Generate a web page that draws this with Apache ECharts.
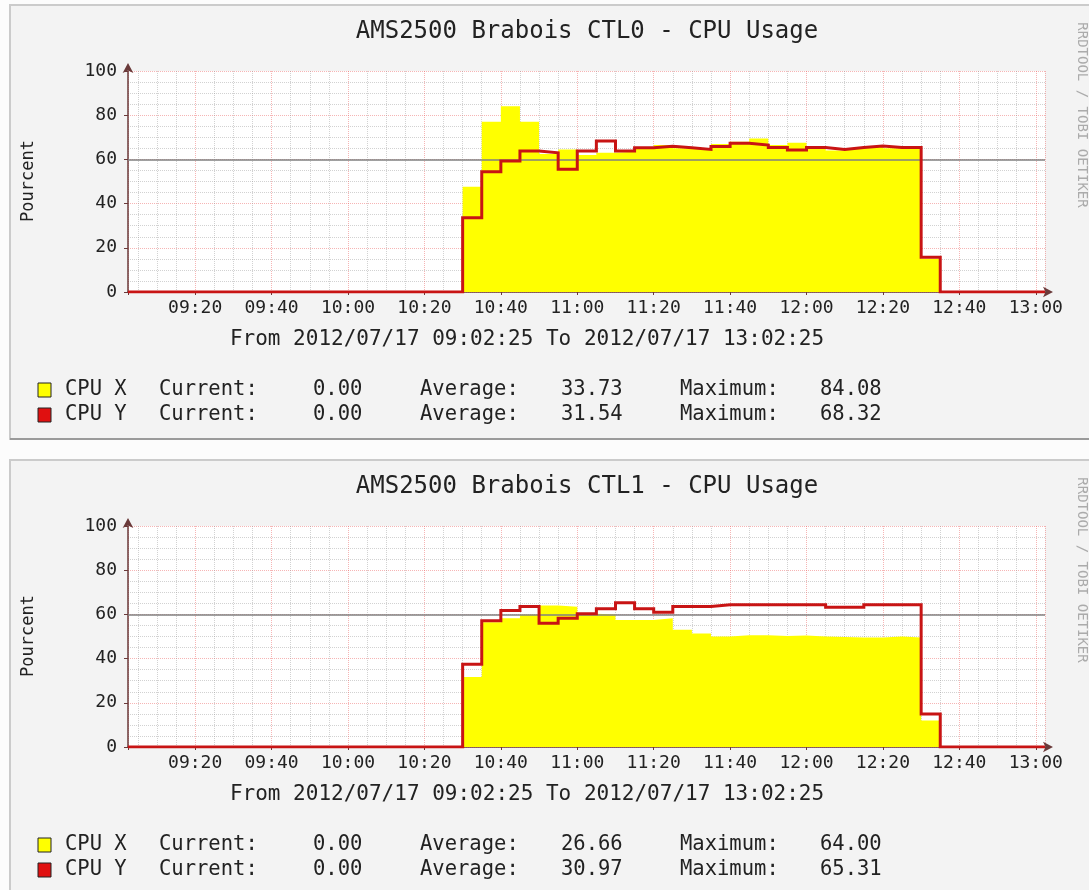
<!DOCTYPE html>
<html>
<head>
<meta charset="utf-8">
<script src="https://cdn.jsdelivr.net/npm/echarts@6/dist/echarts.min.js"></script>
<style>
  html, body { margin: 0; padding: 0; background: #fcfcfc; }
  #chart { width: 1089px; height: 890px; }
</style>
</head>
<body>
<div id="chart"></div>
<script>
// time window of both graphs, minutes since midnight (09:02:25 -> 13:02:25)
const startMin = 9 * 60 + 2 + 25 / 60
const endMin = startMin + 240

// 5 minute rrd steps where something happens (value holds until next step)
const slots = ['10:30', '10:35', '10:40', '10:45', '10:50', '10:55', '11:00', '11:05', '11:10',
    '11:15', '11:20', '11:25', '11:30', '11:35', '11:40', '11:45', '11:50', '11:55', '12:00',
    '12:05', '12:10', '12:15', '12:20', '12:25', '12:30', '12:35']

const ctl0CpuX = [47.6, 77, 84.1, 77, 62.5, 64.5, 62, 63, 63.5, 65, 66.5, 65, 65, 67, 68, 69.5,
    66.5, 67.5, 66, 64, 65, 66, 65, 65, 15, 0]
const ctl0CpuY = [33.6, 54.4, 59.3, 63.8, 63, 55.5, 63.8, 68.3, 63.8, 65.3, 66, 65.3, 64.5, 65.8,
    67.3, 66.5, 65.4, 64.2, 65.4, 64.5, 65.4, 66.1, 65.4, 65.4, 15.7, 0]
const ctl1CpuX = [31.7, 56.5, 58.3, 59.8, 64, 63.5, 60.3, 60, 57.5, 57.5, 58.3, 53, 51.4, 50, 50.6,
    50.6, 50.2, 50.5, 50, 49.8, 49.5, 49.6, 50, 49.5, 12, 0]
const ctl1CpuY = [37.4, 57.1, 61.8, 63.6, 56, 58.3, 60.3, 62.6, 65.3, 62.6, 61, 63.6, 63.6, 64.4,
    64.4, 64.4, 64.4, 64.4, 64.4, 63.2, 63.2, 64.4, 64.4, 64.4, 14.9, 0]

const hrule = 60

const titles = ['AMS2500 Brabois CTL0 - CPU Usage', 'AMS2500 Brabois CTL1 - CPU Usage']
const periodText = 'From 2012/07/17 09:02:25 To 2012/07/17 13:02:25'
const legendNames = ['CPU X', 'CPU Y']
const ctl0Current = ['0.00', '0.00']
const ctl0Average = ['33.73', '31.54']
const ctl0Maximum = ['84.08', '68.32']
const ctl1Current = ['0.00', '0.00']
const ctl1Average = ['26.66', '30.97']
const ctl1Maximum = ['64.00', '65.31']

const mono = "'DejaVu Sans Mono', monospace"
const textColor = '#222222'
const axisColor = '#6a3a3a'
const majorGrid = 'rgba(235, 90, 90, 0.45)'
const minorGrid = 'rgba(143, 143, 143, 0.40)'
const colorX = '#ffff00'
const colorY = '#c81414'

function toMin(hhmm) {
    let parts = hhmm.split(':')
    return +parts[0] * 60 + +parts[1]
}

function stepData(values) {
    let pts = [[startMin, 0]]
    for (let i = 0; i < slots.length; i++) {
        pts.push([toMin(slots[i]), values[i]])
    }
    pts.push([endMin, 0])
    return pts
}

function pad(n) {
    return (n < 10 ? '0' : '') + n
}

function timeLabel(v) {
    let m = Math.round(v)
    if (Math.abs(v - m) > 0.01 || m % 20 !== 0) return ''
    return pad(Math.floor(m / 60)) + ':' + pad(m % 60)
}

const panelOffset = 455
const grids = [0, 1].map(i => ({
    left: 128, top: 71 + i * panelOffset, width: 917, height: 221,
    show: true, backgroundColor: '#ffffff', borderWidth: 0
}))

const xAxes = [0, 1].map(i => ({
    type: 'value', gridIndex: i, min: startMin, max: endMin,
    splitNumber: 12, minInterval: 20, maxInterval: 20,
    axisLine: {
        show: true, onZero: false, symbol: ['none', 'arrow'], symbolSize: [8, 10], symbolOffset: [0, 8],
        lineStyle: { color: axisColor, width: 1.5 }
    },
    axisTick: { show: true, length: 3, lineStyle: { color: axisColor } },
    axisLabel: { formatter: timeLabel, fontFamily: mono, fontSize: 18, color: textColor, margin: 7 },
    splitLine: { show: true, lineStyle: { color: majorGrid, type: 'dotted' } },
    minorTick: { show: false, splitNumber: 4 },
    minorSplitLine: { show: true, lineStyle: { color: minorGrid, type: 'dotted' } }
}))

const yAxes = [0, 1].map(i => ({
    type: 'value', gridIndex: i, min: 0, max: 100, interval: 20,
    axisLine: {
        show: true, symbol: ['none', 'arrow'], symbolSize: [8, 10], symbolOffset: [0, 8],
        lineStyle: { color: axisColor, width: 1.5 }
    },
    axisTick: { show: true, length: 4, lineStyle: { color: axisColor } },
    axisLabel: { fontFamily: mono, fontSize: 18, color: textColor, margin: 11 },
    splitLine: { show: true, lineStyle: { color: majorGrid, type: 'dotted' } },
    minorTick: { show: false, splitNumber: 4 },
    minorSplitLine: { show: true, lineStyle: { color: minorGrid, type: 'dotted' } }
}))

function seriesFor(i, cpuX, cpuY) {
    return [
        {
            name: 'CPU X', type: 'line', step: 'end', xAxisIndex: i, yAxisIndex: i,
            data: stepData(cpuX), showSymbol: false, silent: true, z: 2,
            lineStyle: { width: 0, color: colorX },
            areaStyle: { color: colorX, opacity: 1 },
            markLine: {
                silent: true, symbol: 'none', label: { show: false }, z: 4,
                lineStyle: { color: '#808080', width: 1.5, type: 'solid' },
                data: [{ yAxis: hrule }]
            }
        },
        {
            name: 'CPU Y', type: 'line', step: 'end', xAxisIndex: i, yAxisIndex: i,
            data: stepData(cpuY), showSymbol: false, silent: true, z: 6,
            lineStyle: { width: 3, color: colorY, join: 'miter' }
        }
    ]
}

function txt(x, y, text, size, extra) {
    return Object.assign({
        type: 'text', x: x, y: y, silent: true, z: 10,
        style: Object.assign({ text: text, fontFamily: mono, fontSize: size, fill: textColor,
            align: 'left', verticalAlign: 'middle' }, (extra && extra.style) || {})
    }, extra ? { rotation: extra.rotation || 0 } : {})
}

function panelGraphics(p, current, average, maximum) {
    let dy = p * panelOffset
    let els = [
        { type: 'rect', silent: true, z: -10, shape: { x: 10, y: 5 + dy, width: 1090, height: 434 },
          style: { fill: '#f3f3f3', stroke: '#cbcbcb', lineWidth: 2 } },
        { type: 'line', silent: true, z: -9, shape: { x1: 10, y1: 439 + dy, x2: 1100, y2: 439 + dy },
          style: { stroke: '#9a9a9a', lineWidth: 2 } },
        txt(587, 32 + dy, titles[p], 24, { style: { align: 'center' } }),
        txt(29, 181 + dy, 'Pourcent', 17, { rotation: Math.PI / 2, style: { align: 'center' } }),
        txt(527, 340 + dy, periodText, 21, { style: { align: 'center' } }),
        txt(1082, 115 + dy, 'RRDTOOL / TOBI OETIKER', 14,
            { rotation: -Math.PI / 2, style: { align: 'center', fill: '#ababab' } })
    ]
    let boxColors = [colorX, '#e01010']
    for (let r = 0; r < 2; r++) {
        let y = 390 + r * 25 + dy
        els.push({ type: 'rect', silent: true, z: 10, shape: { x: 38, y: y - 7, width: 13, height: 14 },
            style: { fill: boxColors[r], stroke: '#222', lineWidth: 1 } })
        els.push(txt(65, y, legendNames[r], 20.5))
        els.push(txt(159, y, 'Current:', 20.5))
        els.push(txt(313, y, current[r], 20.5))
        els.push(txt(420, y, 'Average:', 20.5))
        els.push(txt(561, y, average[r], 20.5))
        els.push(txt(680, y, 'Maximum:', 20.5))
        els.push(txt(820, y, maximum[r], 20.5))
    }
    return els
}

let myChart = echarts.init(document.getElementById('chart'), null, { renderer: 'canvas' })
let option = {
    animation: false,
    backgroundColor: '#fcfcfc',
    grid: grids,
    xAxis: xAxes,
    yAxis: yAxes,
    series: seriesFor(0, ctl0CpuX, ctl0CpuY).concat(seriesFor(1, ctl1CpuX, ctl1CpuY)),
    graphic: panelGraphics(0, ctl0Current, ctl0Average, ctl0Maximum)
        .concat(panelGraphics(1, ctl1Current, ctl1Average, ctl1Maximum))
}
myChart.setOption(option)
</script>
</body>
</html>
